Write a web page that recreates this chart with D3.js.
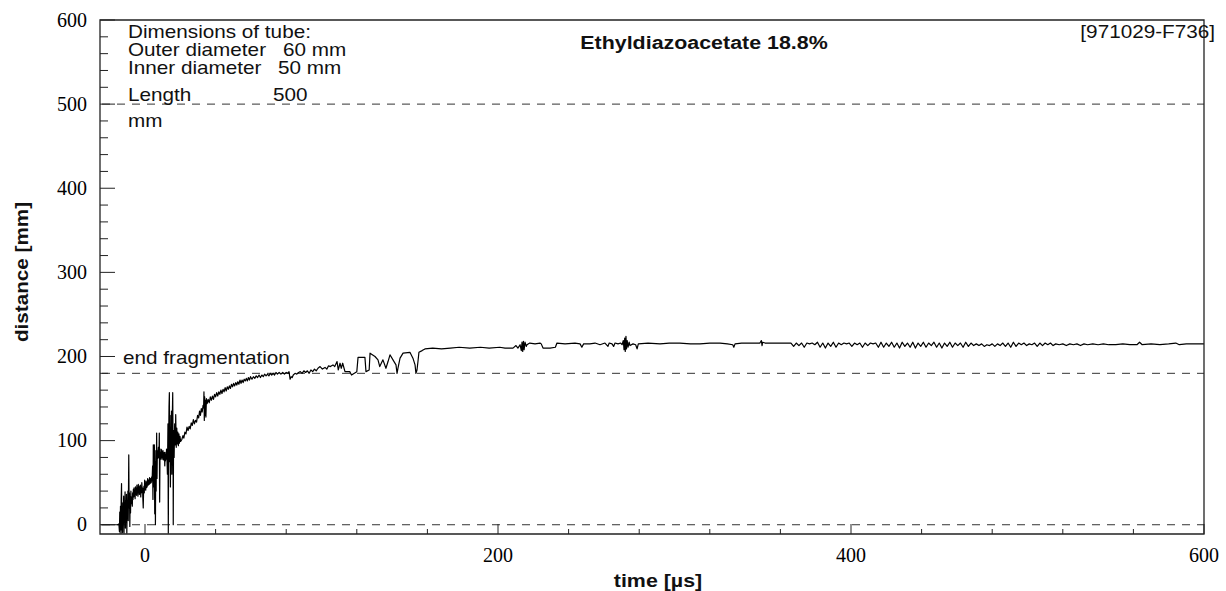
<!DOCTYPE html>
<html>
<head>
<meta charset="utf-8">
<script src="https://cdn.jsdelivr.net/npm/d3@7/dist/d3.min.js"></script>
<style>
  body { margin: 0; background: #fff; }
  svg { display: block; }
</style>
</head>
<body>
<script>
// ---- data: [time µs, distance mm] ----
const earlyTrace = [
  [-25, 0], [-20, 0], [-15.5, 0], [-14.8, 1],
  [-14.5, -8], [-14.3, 15], [-14.1, -10], [-13.9, 22], [-13.7, -6], [-13.5, 30], [-13.3, 49], [-13.1, -10],
  [-12.9, 18], [-12.7, -9], [-12.5, 26], [-12.3, 2], [-12.1, 34], [-11.9, -10], [-11.7, 20], [-11.5, 8],
  [-11.3, 39], [-11.1, -4], [-10.9, 28], [-10.7, 3], [-10.5, 36], [-10.3, -10], [-10.1, 24], [-9.9, 12],
  [-9.7, 40], [-9.5, 5], [-9.2, 83], [-9.0, 20], [-8.8, 38], [-8.6, -2], [-8.4, 33], [-8.2, 14], [-8.0, 40],
  [-7.8, 25], [-7.5, 33], [-7.2, 22],
  [-7.0, 38], [-6.8, 30], [-6.6, 42], [-6.4, 33], [-6.2, 44], [-6.0, 34], [-5.8, 40], [-5.6, 31],
  [-5.4, 45], [-5.2, 36], [-5.0, 42], [-4.8, 35], [-4.6, 47], [-4.4, 38], [-4.2, 44], [-4.0, 34],
  [-3.8, 48], [-3.6, 39], [-3.4, 44], [-3.2, 36], [-3.0, 46], [-2.8, 38], [-2.6, 47], [-2.4, 33],
  [-2.2, 45], [-2.0, 38], [-1.8, 50], [-1.6, 40], [-1.4, 44], [-1.2, 30], [-1.0, 20], [-0.8, 40],
  [-0.6, 46], [-0.4, 38], [-0.2, 53], [0, 42], [0.2, 48], [0.4, 41], [0.6, 52], [0.8, 44], [1.0, 50],
  [1.2, 45], [1.5, 55], [1.8, 47], [2.0, 53], [2.3, 48], [2.6, 56], [2.9, 49], [3.2, 55], [3.5, 50],
  [3.8, 57], [4.0, 52],
  [4.3, 70], [4.5, 30], [4.7, 95], [4.9, 45], [5.1, 62], [5.3, 95], [5.5, 13], [5.7, 88],
  [5.9, 0], [6.1, 75], [6.3, 40], [6.6, 109], [6.8, 55], [7.0, 88], [7.3, 79], [7.6, 92], [7.9, 80],
  [8.1, 109], [8.3, 27], [8.5, 86], [8.8, 78], [9.0, 90], [9.2, 80], [9.4, 89], [9.6, 78], [9.8, 86],
  [10, 80], [10.2, 88], [10.4, 77], [10.6, 85], [10.8, 79], [11.0, 86], [11.2, 70], [11.4, 83],
  [11.6, 76], [11.8, 86], [12, 78], [12.2, 90], [12.4, 82], [12.7, 60], [13.0, 120], [13.2, -10], [13.4, 100],
  [13.6, 140], [13.8, 157], [14.0, 75], [14.2, 130], [14.4, 45], [14.6, 110], [14.8, 88], [15.0, 135],
  [15.2, 60], [15.4, 120], [15.7, 157], [15.9, 90], [16.0, 0], [16.2, 112], [16.5, 80], [16.8, 120],
  [17.1, 95], [17.4, 131], [17.7, 92], [18, 115], [18.3, 96], [18.6, 110], [18.9, 94], [19.2, 108],
  [19.5, 97], [19.8, 105], [20.2, 99], [20.8, 101]
];

const riseTrace = [
  [21.5, 106], [22, 103], [22.6, 110], [23.2, 108], [23.8, 116], [24.4, 112], [25, 117], [25.6, 114],
  [26.2, 121], [26.8, 118], [27.4, 125], [28, 120], [28.6, 124], [29.2, 122], [29.8, 130], [30.4, 127],
  [30.9, 135], [31.4, 130], [31.9, 138], [32.4, 134], [32.9, 142], [33.2, 139], [33.4, 158], [33.6, 124],
  [33.8, 152], [34, 130], [34.2, 148], [34.5, 128], [34.8, 150], [35.2, 144], [35.8, 149], [36.4, 145],
  [37, 152], [37.6, 148], [38.2, 153], [38.8, 149], [39.4, 155], [40, 152], [40.6, 157], [41.2, 153],
  [41.8, 158], [42.4, 155], [43, 160], [43.6, 156], [44.2, 161], [44.8, 158], [45.4, 163], [46, 159],
  [46.6, 164], [47.2, 161], [47.8, 165], [48.4, 162], [49, 167], [49.6, 164], [50.2, 168], [50.8, 165],
  [51.4, 169], [52, 166], [52.6, 170], [53.2, 167], [53.8, 172], [54.4, 168], [55, 172], [55.6, 169],
  [56.2, 173], [56.8, 171], [57.4, 174], [58, 171], [58.6, 175], [59.2, 172], [59.8, 176], [60.6, 173],
  [61.4, 176], [62.2, 174], [63, 177], [63.8, 175], [64.6, 178], [65.4, 175], [66.2, 178], [67, 176],
  [67.8, 179], [68.6, 177], [69.4, 179], [70.2, 177], [71, 180], [71.8, 178], [72.6, 180], [73.4, 178],
  [74.2, 181], [75, 179], [76, 181], [77, 179], [78, 181], [79, 179], [80, 181], [81, 180], [81.6, 182],
  [82.2, 173], [82.8, 176], [83.4, 175], [84, 178], [85, 180], [86, 179], [87, 181], [88, 182], [89, 180],
  [90, 183], [91, 181], [92, 183], [93, 180], [94, 184], [95, 182], [96, 185], [97, 183], [98, 186],
  [99.2, 188], [100.5, 185], [102, 187], [103, 185], [104, 189], [105, 188], [106.5, 190], [107.5, 188],
  [108.8, 194], [109.5, 184], [110.5, 192], [111.2, 186], [112, 192], [113.3, 182], [116, 182], [117, 178],
  [120, 182], [120.7, 199], [124.6, 199], [125.2, 182], [127, 184], [127.5, 204], [130.3, 200], [132, 196],
  [133, 188], [134.8, 196], [136.5, 186], [137.7, 194], [138.8, 202], [140.5, 196], [142.2, 190],
  [142.8, 180], [143.3, 186], [144.5, 198], [146.2, 204], [150.1, 205], [151.8, 198], [153, 190],
  [153.5, 180], [154.1, 184], [154.7, 195], [155.2, 205], [157, 207], [158.6, 209]
];

const plateauTrace = [
  [163, 210], [168, 209], [173, 210], [178, 211], [184, 210], [190, 211], [195, 210], [201, 211], [204, 210],
  [208.5, 210], [210.2, 213], [211.3, 210], [212.5, 214], [213.2, 207], [213.6, 217], [214.0, 206],
  [214.4, 218], [214.8, 208], [215.3, 217], [216, 212], [216.4, 214], [218, 216], [221, 215], [223.8, 216],
  [224.5, 215], [225.5, 210], [229.5, 210], [232.5, 211], [233.4, 216], [238, 215], [243.6, 216],
  [246.5, 215], [247.5, 211], [248.5, 215], [252, 215], [255, 216], [257.8, 214], [260.6, 216],
  [262.3, 212], [263, 216], [264.6, 215], [265.5, 212], [266.3, 216], [268, 215], [269.5, 216],
  [270.3, 214], [271, 219], [271.4, 208], [271.8, 222], [272.1, 206], [272.5, 224], [272.8, 209],
  [273.2, 219], [273.7, 211], [274.3, 217], [274.8, 213], [276.5, 215], [278, 214], [278.8, 209],
  [279.5, 215], [285, 216], [291.8, 215], [297, 216], [303, 216], [309, 215], [314.4, 215], [320, 216],
  [325.8, 216], [330, 215], [333, 214], [333.6, 211], [334.3, 215], [338, 216], [342.8, 216], [348.4, 216],
  [349.2, 219], [349.6, 213], [350, 217], [351.3, 216], [355, 216], [359.8, 216], [364, 216]
];

const ripplesTrace = [
  [366, 216], [367.5, 212], [369, 216], [370.5, 213], [372, 216], [373.5, 211], [375, 216], [376.5, 215],
  [378, 216], [379.5, 214], [381, 217], [382.5, 211], [384, 216], [385.5, 210], [387, 216], [388.5, 212],
  [390, 217], [391.5, 211], [393, 216], [394.5, 214], [396, 216], [397.5, 215], [399, 216], [400.5, 212],
  [402, 216], [403.5, 214], [405, 216], [406.5, 211], [408, 216], [409.5, 213], [411, 216], [412.5, 215],
  [414, 216], [415.5, 211], [417, 217], [418.5, 211], [420, 216], [421.5, 212], [423, 217], [424.5, 211],
  [426, 216], [427.5, 210], [429, 217], [430.5, 212], [432, 216], [433.5, 211], [435, 217], [436.5, 210],
  [438, 216], [439.5, 212], [441, 217], [442.5, 211], [444, 216], [445.5, 213], [447, 217], [448.5, 211],
  [450, 216], [451.5, 210], [453, 216], [454.5, 212], [456, 217], [457.5, 211], [459, 216], [460.5, 213],
  [462, 216], [463.5, 211], [465, 217], [466.5, 212], [468, 216], [469.5, 213], [471, 215], [472.5, 213],
  [474, 215], [475.5, 212], [477, 214], [478.5, 213], [480, 215], [481.5, 212], [483, 215], [484.5, 213],
  [486, 216], [487.5, 212], [489, 216], [490.5, 211], [492, 217], [493.5, 212], [495, 216], [496.5, 214],
  [498, 216], [499.5, 213], [501, 215], [502.5, 214], [504, 216], [505.5, 212], [507, 216], [508.5, 213],
  [510, 216], [511.5, 214], [513, 216], [514.5, 213], [516, 215], [518, 214]
];

const tailTrace = [
  [520, 215], [522, 213], [524, 215], [526, 214], [528, 215], [530, 213], [532, 215], [534, 214],
  [537, 215], [540, 214], [543, 215], [546, 214], [550, 214], [554, 215], [558, 214], [562, 214],
  [563.5, 217], [565, 214], [570, 215], [575, 214], [580, 215], [584, 216], [586, 214], [590, 215],
  [595, 215], [600, 215]
];

// reference lines (dashed)
const refLevels = [0, 180, 500];

// ticks
const xMajorTicks = [0, 200, 400, 600];
const xMinorTicks = [40, 80, 120, 160, 240, 280, 320, 360, 440, 480, 520, 560];
const yMajorTicks = [0, 100, 200, 300, 400, 500, 600];
const yMinorTicks = [20, 40, 60, 80, 120, 140, 160, 180, 220, 240, 260, 280, 320, 340, 360, 380,
  420, 440, 460, 480, 520, 540, 560, 580];

const trace = [].concat(earlyTrace, riseTrace, plateauTrace, ripplesTrace, tailTrace);

// ---- layout ----
const W = 1226, H = 591;
const plotL = 100, plotR = 1204, plotT = 20, plotB = 534;
const SANS = "'Liberation Sans', Arial, sans-serif";
const SERIF = "'Liberation Serif', 'Times New Roman', serif";
const stretch = 1.17; // the original text is a bit wide

const svg = d3.select("body").append("svg")
  .attr("width", W)
  .attr("height", H);

svg.append("rect").attr("width", W).attr("height", H).attr("fill", "#fff");

const x = d3.scaleLinear().domain([-25.5, 600]).range([plotL, plotR]);
const y = d3.scaleLinear().domain([-11, 600]).range([plotB, plotT]);

// dashed reference lines
svg.selectAll(".ref")
  .data(refLevels)
  .join("line")
  .attr("class", "ref")
  .attr("x1", plotL + 2)
  .attr("x2", plotR)
  .attr("y1", d => y(d))
  .attr("y2", d => y(d))
  .attr("stroke", "#333")
  .attr("stroke-width", 1)
  .attr("stroke-dasharray", "8,7");

// the measured trace
const line = d3.line()
  .x(d => x(d[0]))
  .y(d => y(d[1]));

svg.append("path")
  .datum(trace)
  .attr("d", line)
  .attr("fill", "none")
  .attr("stroke", "#000")
  .attr("stroke-width", 1.2)
  .attr("stroke-linejoin", "round");

// frame
svg.append("path")
  .attr("d", `M${plotL},${plotT}H${plotR}V${plotB}H${plotL}Z`)
  .attr("fill", "none")
  .attr("stroke", "#222")
  .attr("stroke-width", 1.3);

// y ticks, drawn inside the frame
svg.selectAll(".ytick")
  .data(yMajorTicks.map(v => [v, 15]).concat(yMinorTicks.map(v => [v, 8])))
  .join("line")
  .attr("class", "ytick")
  .attr("x1", plotL)
  .attr("x2", d => plotL + d[1])
  .attr("y1", d => y(d[0]))
  .attr("y2", d => y(d[0]))
  .attr("stroke", "#222")
  .attr("stroke-width", 1);

svg.selectAll(".ylabel")
  .data(yMajorTicks)
  .join("text")
  .attr("class", "ylabel")
  .attr("x", 87)
  .attr("y", d => y(d))
  .attr("dy", "0.33em")
  .attr("text-anchor", "end")
  .attr("font-family", SERIF)
  .attr("font-size", 20)
  .text(d => d);

// x ticks
svg.selectAll(".xtick")
  .data(xMajorTicks.map(v => [v, 10]).concat(xMinorTicks.map(v => [v, 5])))
  .join("line")
  .attr("class", "xtick")
  .attr("x1", d => x(d[0]))
  .attr("x2", d => x(d[0]))
  .attr("y1", plotB)
  .attr("y2", d => plotB - d[1])
  .attr("stroke", "#222")
  .attr("stroke-width", 1);

svg.selectAll(".xlabel")
  .data(xMajorTicks)
  .join("text")
  .attr("class", "xlabel")
  .attr("x", d => x(d))
  .attr("y", 562)
  .attr("text-anchor", "middle")
  .attr("font-family", SERIF)
  .attr("font-size", 20)
  .text(d => d);

// helper for the slightly wide sans text
function label(str, px, py, opts = {}) {
  svg.append("text")
    .attr("transform", `translate(${px},${py}) scale(${stretch},1)`)
    .attr("text-anchor", opts.anchor || "start")
    .attr("font-family", SANS)
    .attr("font-size", opts.size || 17.7)
    .attr("font-weight", opts.bold ? "bold" : "normal")
    .attr("fill", "#111")
    .text(str);
}

// tube dimensions note
label("Dimensions of tube:", 128, 38);
label("Outer diameter", 128, 56);
label("60 mm", 283, 56);
label("Inner diameter", 128, 74);
label("50 mm", 278, 74);
label("Length", 128, 101);
label("500", 273, 101);
label("mm", 128, 127);

label("end fragmentation", 123, 364);
label("Ethyldiazoacetate 18.8%", 704, 49, { bold: true, anchor: "middle", size: 18.3 });
label("[971029-F736]", 1215, 38, { anchor: "end" });

// axis titles
label("time [µs]", 658, 587, { bold: true, anchor: "middle", size: 18.3 });
svg.append("text")
  .attr("transform", "translate(28,272) rotate(-90) scale(1.15,1)")
  .attr("text-anchor", "middle")
  .attr("font-family", SANS)
  .attr("font-size", 18)
  .attr("font-weight", "bold")
  .attr("fill", "#111")
  .text("distance [mm]");
</script>
</body>
</html>
